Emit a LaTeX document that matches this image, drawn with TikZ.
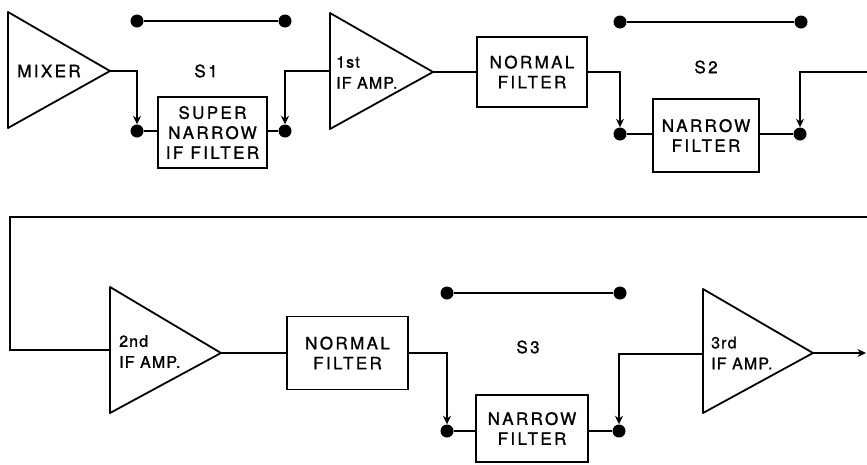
\documentclass[tikz,border=0pt]{standalone}
\usepackage{fontspec}
\newfontfamily\lbl[LetterSpace=14,FakeBold=1.2]{TeX Gyre Heros}
\newfontfamily\amplbl[LetterSpace=7,FakeBold=1.2]{TeX Gyre Heros}
\usetikzlibrary{arrows.meta}
\begin{document}
\begin{tikzpicture}[x=1pt,y=-1pt,
 wire/.style={line width=1.8pt, line join=miter},
 arr/.style={wire,-{Stealth[length=8.5pt,width=8pt]}},
 ampshape/.style={line width=1.8pt, line join=round},
 box/.style={draw, line width=1.8pt, align=center, inner sep=0pt, font=\lbl\fontsize{17}{20}\selectfont},
 dot/.style={circle, fill, inner sep=0pt, minimum size=13pt},
 lab/.style={font=\lbl\fontsize{17}{20}\selectfont, inner sep=0pt},
 amplab/.style={anchor=west, align=left, inner sep=0pt, font=\amplbl\fontsize{16}{21}\selectfont},
]
\useasboundingbox (0,0) rectangle (867,464);

% ---------- Row 1 ----------
\draw[ampshape] (8,12) -- (8,128) -- (110,71) -- cycle;
\coordinate (mixout) at (110,71);
\node[lab] (mixer) at (49,71) {MIXER};

\node[dot] (s1a) at (137,21) {};
\node[dot] (s1b) at (285,21) {};
\draw[wire] (s1a) -- (s1b);
\node[lab] (s1) at (206,71) {S1};
\node[dot] (d1L) at (137,131) {};
\node[dot] (d1R) at (285,131) {};
\node[box, minimum width=109pt, minimum height=71pt] (sn) at (212.5,132.5) {SUPER\\NARROW\\IF FILTER};
\draw[arr] (mixout) -| (d1L);
\draw[wire] (d1L) -- (d1L -| sn.west);
\draw[wire] (d1R -| sn.east) -- (d1R);

\draw[ampshape] (330,13) -- (330,129) -- (433,72) -- cycle;
\coordinate (a1in) at (330,71);
\coordinate (a1out) at (433,72);
\node[amplab] (a1t) at (336,72.5) {1st\\IF AMP.};
\draw[arr] (a1in) -| (d1R);

\node[box, minimum width=110pt, minimum height=70pt] (nf1) at (532,72) {NORMAL\\FILTER};
\draw[wire] (a1out) -- (a1out -| nf1.west);

\node[dot] (d2L) at (620,134) {};
\node[dot] (d2R) at (800,134) {};
\draw[arr] (nf1.east) -| (d2L);
\node[dot] (s2a) at (620,22) {};
\node[dot] (s2b) at (801,22) {};
\draw[wire] (s2a) -- (s2b);
\node[lab] (s2) at (706,67) {S2};
\node[box, minimum width=106pt, minimum height=73pt] (nb2) at (706,135.5) {NARROW\\FILTER};
\draw[wire] (d2L) -- (d2L -| nb2.west);
\draw[wire] (d2R -| nb2.east) -- (d2R);
\coordinate (r1) at (867,72);
\draw[arr] (r1) -| (d2R);

% ---------- Row 2 ----------
\coordinate (r2) at (867,217);
\coordinate (a2in) at (110,350);
\draw[wire] (r2) -- (10,217) -- (10,350) -- (a2in);

\draw[ampshape] (110,287) -- (110,413) -- (221,353) -- cycle;
\coordinate (a2out) at (221,353);
\node[amplab] (a2t) at (119,351.5) {2nd\\IF AMP.};

\node[box, minimum width=121pt, minimum height=73pt] (nf2) at (347.5,353) {NORMAL\\FILTER};
\draw[wire] (a2out) -- (nf2.west);

\node[dot] (d3L) at (447,431) {};
\node[dot] (d3R) at (619,431) {};
\draw[arr] (nf2.east) -| (d3L);
\node[dot] (s3a) at (447,293) {};
\node[dot] (s3b) at (620,293) {};
\draw[wire] (s3a) -- (s3b);
\node[lab] (s3) at (528,347) {S3};
\node[box, minimum width=112pt, minimum height=67pt] (nb3) at (532,428.5) {NARROW\\FILTER};
\draw[wire] (d3L) -- (d3L -| nb3.west);
\draw[wire] (d3R -| nb3.east) -- (d3R);

\draw[ampshape] (703,289) -- (703,413) -- (813,353) -- cycle;
\coordinate (a3in) at (703,354);
\coordinate (a3out) at (813,353);
\node[amplab] (a3t) at (711,353) {3rd\\IF AMP.};
\draw[arr] (a3in) -| (d3R);
\coordinate (out) at (866,353);
\draw[arr] (a3out) -- (out);
\end{tikzpicture}
\end{document}
